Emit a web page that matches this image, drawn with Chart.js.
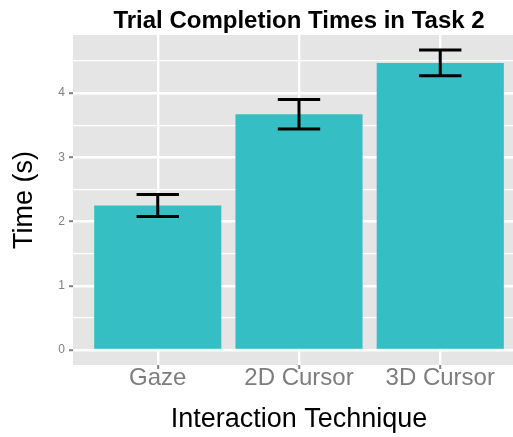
<!DOCTYPE html>
<html>
<head>
<meta charset="utf-8">
<script src="https://cdn.jsdelivr.net/npm/chart.js@4/dist/chart.umd.min.js"></script>
<style>
    html, body { margin: 0; padding: 0; overflow: hidden; background: #fff; }
    #wrap { width: 530px; height: 437px; }
</style>
</head>
<body>
<div id="wrap"><canvas id="timeChart"></canvas></div>
<script>
// 데이터
const categories = ['Gaze', '2D Cursor', '3D Cursor'];
const meanTimes = [2.25, 3.67, 4.47];
const errTimes = [0.17, 0.23, 0.20];
const yTickLabels = [0, 1, 2, 3, 4];
const yGridValues = [0, 0.5, 1, 1.5, 2, 2.5, 3, 3.5, 4, 4.5];

const FONT = "'Liberation Sans', Arial, Helvetica, sans-serif";
const BAR_COLOR = '#35bfc4';
const PANEL_COLOR = '#e5e5e5';
const TICK_COLOR = '#808080';

// 회색 패널 배경
const panelBackground = {
    id: 'panelBackground',
    beforeDraw(chart) {
        const { ctx, chartArea: a } = chart;
        ctx.save();
        ctx.fillStyle = PANEL_COLOR;
        ctx.fillRect(a.left, a.top, a.right - a.left, a.bottom - a.top);
        ctx.restore();
    }
};

// 오차 막대
const errorBars = {
    id: 'errorBars',
    afterDatasetsDraw(chart) {
        const { ctx, scales: { x, y } } = chart;
        ctx.save();
        ctx.strokeStyle = '#000';
        ctx.lineWidth = 3;
        meanTimes.forEach((m, i) => {
            const xl = x.getPixelForValue(i - 0.15);
            const xr = x.getPixelForValue(i + 0.15);
            const xc = x.getPixelForValue(i);
            const yHi = y.getPixelForValue(m + errTimes[i]);
            const yLo = y.getPixelForValue(m - errTimes[i]);
            ctx.beginPath();
            ctx.moveTo(xl, yHi); ctx.lineTo(xr, yHi);
            ctx.moveTo(xl, yLo); ctx.lineTo(xr, yLo);
            ctx.moveTo(xc, yHi); ctx.lineTo(xc, yLo);
            ctx.stroke();
        });
        ctx.restore();
    }
};

const ctx = document.getElementById('timeChart').getContext('2d');
new Chart(ctx, {
    type: 'bar',
    data: {
        datasets: [{
            data: meanTimes.map((v, i) => ({ x: i, y: v })),
            backgroundColor: BAR_COLOR,
            borderWidth: 0,
            barPercentage: 0.9,
            categoryPercentage: 1.0
        }]
    },
    options: {
        responsive: true,
        maintainAspectRatio: false,
        animation: false,
        layout: { padding: { left: 0, right: 5, top: 0, bottom: 0 } },
        plugins: {
            legend: { display: false },
            tooltip: { enabled: false },
            title: {
                display: true,
                text: 'Trial Completion Times in Task 2',
                fullSize: false,
                color: '#000',
                font: { family: FONT, size: 24, weight: 'bold', lineHeight: 1 },
                padding: { top: 9, bottom: 2 }
            }
        },
        scales: {
            x: {
                type: 'linear',
                min: -0.6,
                max: 2.6,
                offset: false,
                border: { display: false },
                grid: {
                    offset: false,
                    color: '#ffffff',
                    lineWidth: 2.4,
                    tickColor: TICK_COLOR,
                    tickWidth: 2,
                    tickLength: 4
                },
                afterBuildTicks: (s) => { s.ticks = categories.map((c, i) => ({ value: i })); },
                afterFit: (s) => { s.height = 72; },
                ticks: {
                    autoSkip: false,
                    maxRotation: 0,
                    color: '#7d7d7d',
                    padding: -3,
                    font: { family: FONT, size: 24, lineHeight: 1 },
                    callback: (v) => categories[v] ?? ''
                },
                title: {
                    display: true,
                    text: 'Interaction Technique',
                    color: '#000',
                    font: { family: FONT, size: 27, lineHeight: 1.2 },
                    padding: { top: 0, bottom: 1.5 }
                }
            },
            y: {
                min: -0.234,
                max: 4.905,
                border: { display: false },
                grid: {
                    color: '#ffffff',
                    lineWidth: (c) => (yTickLabels.includes(c.tick.value) ? 2.4 : 1.2),
                    tickColor: (c) => (yTickLabels.includes(c.tick.value) ? TICK_COLOR : 'rgba(0,0,0,0)'),
                    tickWidth: 2,
                    tickLength: 4
                },
                afterBuildTicks: (s) => { s.ticks = yGridValues.map((v) => ({ value: v })); },
                afterFit: (s) => { s.width = 73; },
                ticks: {
                    autoSkip: false,
                    color: TICK_COLOR,
                    padding: 4,
                    font: { family: FONT, size: 12 },
                    callback: (v) => (yTickLabels.includes(v) ? String(v) : '')
                },
                title: {
                    display: true,
                    text: 'Time (s)',
                    color: '#000',
                    font: { family: FONT, size: 27, lineHeight: 1.2 },
                    padding: { top: 8, bottom: 0 }
                }
            }
        }
    },
    plugins: [panelBackground, errorBars]
});
</script>
</body>
</html>
